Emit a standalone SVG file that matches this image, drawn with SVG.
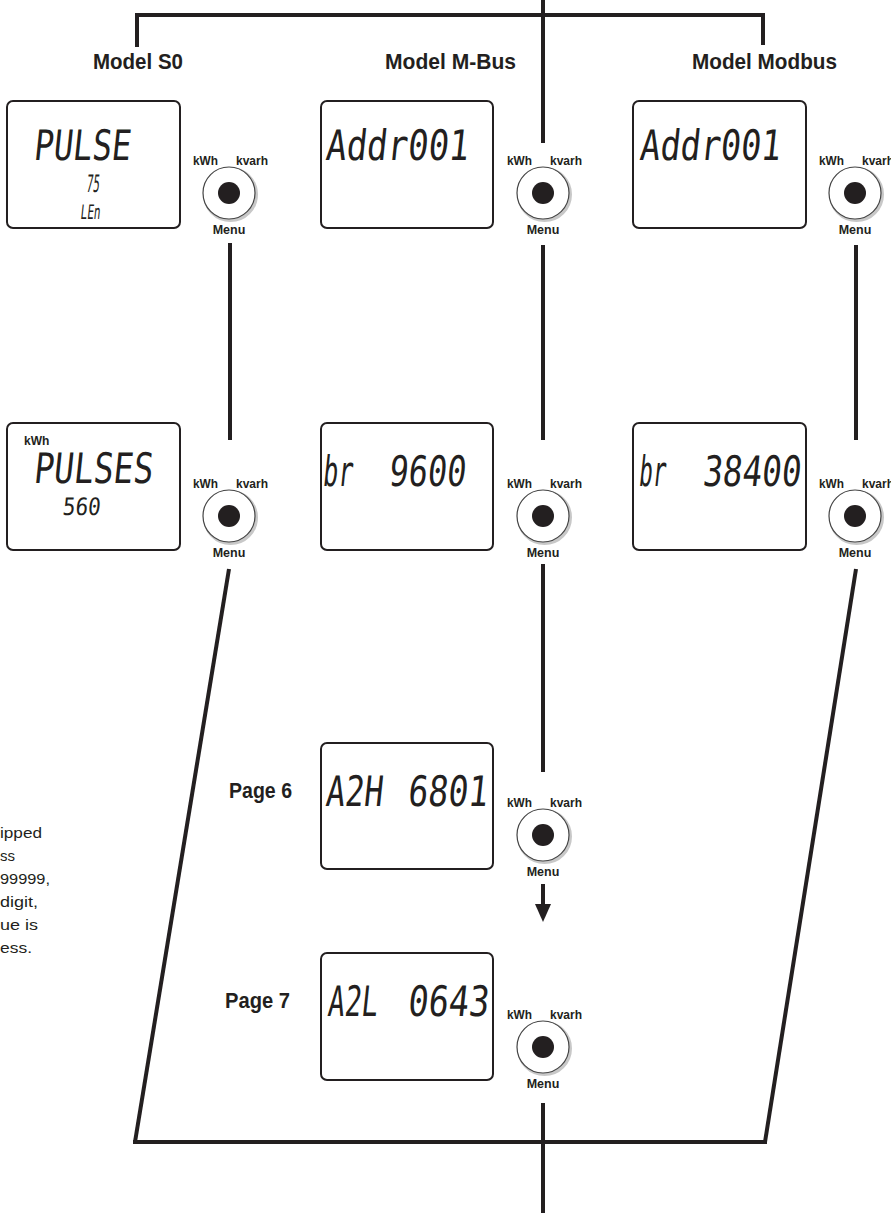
<svg xmlns="http://www.w3.org/2000/svg" width="891" height="1213" viewBox="0 0 891 1213">
<style>
.title{font-family:"Liberation Sans",Arial,sans-serif;font-weight:bold;font-size:22px;fill:#231f20}
.page{font-family:"Liberation Sans",Arial,sans-serif;font-weight:bold;font-size:22px;fill:#231f20}
.lbl{font-family:"Liberation Sans",Arial,sans-serif;font-weight:bold;font-size:12px;fill:#231f20}
.menu{font-family:"Liberation Sans",Arial,sans-serif;font-weight:bold;font-size:12.5px;fill:#231f20;text-anchor:middle}
.seg{font-family:"DejaVu Sans Mono",monospace;font-size:42px;fill:#231f20}
.segs{font-family:"DejaVu Sans Mono",monospace;fill:#231f20}
.note{font-family:"Liberation Sans",Arial,sans-serif;font-size:15px;fill:#231f20}
.box{fill:#fff;stroke:#231f20;stroke-width:2}
.conn{fill:none;stroke:#231f20;stroke-width:4}
.ring{fill:#fff;stroke:#444;stroke-width:1.2}
.shadow{fill:none;stroke:#c8c8c8;stroke-width:3}
</style>
<defs>
<g id="btn">
<text class="lbl" x="-36" y="-28" textLength="25" lengthAdjust="spacingAndGlyphs">kWh</text>
<text class="lbl" x="7" y="-28" textLength="32" lengthAdjust="spacingAndGlyphs">kvarh</text>
<circle class="shadow" cx="1.5" cy="1.5" r="26"/>
<circle class="ring" cx="0" cy="0" r="26"/>
<circle cx="0" cy="0" r="11" fill="#231f20"/>
<text class="menu" x="0" y="41">Menu</text>
</g>
</defs>
<rect width="891" height="1213" fill="#fff"/>

<g id="connectors">
<polyline class="conn" points="137,47 137,15 763,15 763,45"/>
<line class="conn" x1="543" y1="0" x2="543" y2="143"/>
<line class="conn" x1="230" y1="243" x2="230" y2="440"/>
<line class="conn" x1="229" y1="569" x2="135" y2="1142"/>
<line class="conn" x1="543" y1="245" x2="543" y2="440"/>
<line class="conn" x1="543" y1="564" x2="543" y2="772"/>
<line class="conn" x1="543" y1="884" x2="543" y2="906"/>
<polygon points="535,904 551,904 543,922" fill="#231f20"/>
<line class="conn" x1="543" y1="1103" x2="543" y2="1213"/>
<line class="conn" x1="856" y1="245" x2="856" y2="440"/>
<line class="conn" x1="856" y1="569" x2="765" y2="1142"/>
<line class="conn" x1="133" y1="1142" x2="767" y2="1142"/>
</g>

<g id="titles">
<text class="title" x="93" y="69" textLength="90" lengthAdjust="spacingAndGlyphs">Model S0</text>
<text class="title" x="385" y="69" textLength="131" lengthAdjust="spacingAndGlyphs">Model M-Bus</text>
<text class="title" x="692" y="69" textLength="145" lengthAdjust="spacingAndGlyphs">Model Modbus</text>
</g>

<g id="s0-pulse">
<rect class="box" x="7" y="101" width="173" height="127" rx="6"/>
<g transform="translate(33,160) skewX(-6)"><text class="seg" x="0" y="0" font-size="38" textLength="97" lengthAdjust="spacingAndGlyphs">PULSE</text></g>
<g transform="translate(86,192) skewX(-6)"><text class="segs" x="0" y="0" font-size="24" textLength="13" lengthAdjust="spacingAndGlyphs">75</text></g>
<g transform="translate(80,219) skewX(-6)"><text class="segs" x="0" y="0" font-size="20" textLength="20" lengthAdjust="spacingAndGlyphs">LEn</text></g>
<use href="#btn" x="229" y="193"/>
</g>

<g id="mbus-addr">
<rect class="box" x="321" y="101" width="172" height="127" rx="6"/>
<g transform="translate(325,160) skewX(-6)"><text class="seg" x="0" y="0" font-size="38" textLength="143" lengthAdjust="spacingAndGlyphs">Addr001</text></g>
<use href="#btn" x="543" y="193"/>
</g>

<g id="modbus-addr">
<rect class="box" x="633" y="101" width="173" height="127" rx="6"/>
<g transform="translate(639,160) skewX(-6)"><text class="seg" x="0" y="0" font-size="38" textLength="141" lengthAdjust="spacingAndGlyphs">Addr001</text></g>
<use href="#btn" x="855" y="193"/>
</g>

<g id="s0-pulses">
<rect class="box" x="7" y="423" width="173" height="127" rx="6"/>
<text class="lbl" x="24" y="445" font-size="14">kWh</text>
<g transform="translate(33,483) skewX(-6)"><text class="seg" x="0" y="0" font-size="38" textLength="119" lengthAdjust="spacingAndGlyphs">PULSES</text></g>
<g transform="translate(62,515) skewX(-6)"><text class="segs" x="0" y="0" font-size="24" textLength="38" lengthAdjust="spacingAndGlyphs">560</text></g>
<use href="#btn" x="229" y="516"/>
</g>

<g id="mbus-br">
<rect class="box" x="321" y="423" width="172" height="127" rx="6"/>
<g transform="translate(322,486) skewX(-6)"><text class="seg" x="0" y="0" textLength="30" lengthAdjust="spacingAndGlyphs">br</text></g>
<g transform="translate(388,486) skewX(-6)"><text class="seg" x="0" y="0" textLength="77" lengthAdjust="spacingAndGlyphs">9600</text></g>
<use href="#btn" x="543" y="516"/>
</g>

<g id="modbus-br">
<rect class="box" x="633" y="423" width="173" height="127" rx="6"/>
<g transform="translate(638,486) skewX(-6)"><text class="seg" x="0" y="0" textLength="27" lengthAdjust="spacingAndGlyphs">br</text></g>
<g transform="translate(702,486) skewX(-6)"><text class="seg" x="0" y="0" textLength="98" lengthAdjust="spacingAndGlyphs">38400</text></g>
<use href="#btn" x="855" y="516"/>
</g>

<g id="page6">
<text class="page" x="229" y="798" textLength="63" lengthAdjust="spacingAndGlyphs">Page 6</text>
<rect class="box" x="321" y="743" width="172" height="126" rx="6"/>
<g transform="translate(325,806) skewX(-6)"><text class="seg" x="0" y="0" textLength="57" lengthAdjust="spacingAndGlyphs">A2H</text></g>
<g transform="translate(407,806) skewX(-6)"><text class="seg" x="0" y="0" textLength="80" lengthAdjust="spacingAndGlyphs">6801</text></g>
<use href="#btn" x="543" y="835"/>
</g>

<g id="page7">
<text class="page" x="225" y="1008" textLength="65" lengthAdjust="spacingAndGlyphs">Page 7</text>
<rect class="box" x="321" y="953" width="172" height="127" rx="6"/>
<g transform="translate(327,1016) skewX(-6)"><text class="seg" x="0" y="0" textLength="50" lengthAdjust="spacingAndGlyphs">A2L</text></g>
<g transform="translate(407,1016) skewX(-6)"><text class="seg" x="0" y="0" textLength="81" lengthAdjust="spacingAndGlyphs">0643</text></g>
<use href="#btn" x="543" y="1047"/>
</g>

<g id="note">
<text class="note" x="0" y="838" textLength="42" lengthAdjust="spacingAndGlyphs">ipped</text>
<text class="note" x="0" y="861">ss</text>
<text class="note" x="0" y="884" textLength="50" lengthAdjust="spacingAndGlyphs">99999,</text>
<text class="note" x="0" y="907" textLength="38" lengthAdjust="spacingAndGlyphs">digit,</text>
<text class="note" x="0" y="930" textLength="38" lengthAdjust="spacingAndGlyphs">ue is</text>
<text class="note" x="0" y="953" textLength="32" lengthAdjust="spacingAndGlyphs">ess.</text>
</g>
</svg>
